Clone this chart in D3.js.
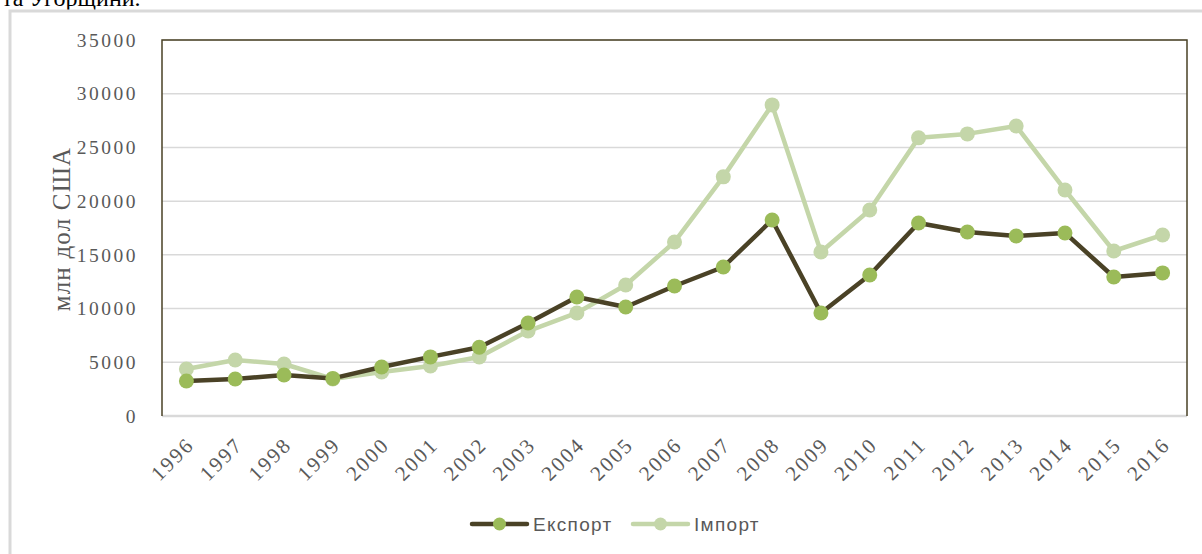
<!DOCTYPE html>
<html><head><meta charset="utf-8">
<script src="https://cdn.jsdelivr.net/npm/d3@7"></script>
<style>body{margin:0;background:#fff;} svg{display:block;}</style>
</head><body>
<svg id="c" width="1202" height="554"></svg>
<script>
const years = ["1996","1997","1998","1999","2000","2001","2002","2003","2004","2005","2006","2007","2008","2009","2010","2011","2012","2013","2014","2015","2016"];
const exportVals = [3260,3450,3820,3500,4560,5500,6400,8660,11080,10150,12100,13870,18250,9590,13130,17970,17130,16760,17040,12940,13320];
const importVals = [4380,5210,4840,3450,4100,4660,5500,7910,9590,12200,16200,22260,28960,15270,19180,25890,26260,27000,21040,15360,16850];
const yTicks = [0,5000,10000,15000,20000,25000,30000,35000];
const seriesNames = ["Експорт","Імпорт"];

const svg = d3.select("#c");
const L=162, R=1187, T=40, B=416;
const x = d3.scaleBand().domain(years).range([L,R]);
const y = d3.scaleLinear().domain([0,35000]).range([B,T]);
const cx = d => x(d)+x.bandwidth()/2;

// top cut-off text (continuation of preceding document text)
svg.append("text").attr("x",2).attr("y",6).attr("font-family","Liberation Serif").attr("font-size",24).attr("fill","#000").text("та Угорщини.");
// outer frame
svg.append("rect").attr("x",10).attr("y",11).attr("width",1200).attr("height",560).attr("fill","none").attr("stroke","#d9d9d9").attr("stroke-width",3);

// gridlines
svg.append("g").selectAll("line").data(yTicks.slice(1)).join("line")
  .attr("x1",L).attr("x2",R).attr("y1",d=>y(d)).attr("y2",d=>y(d))
  .attr("stroke","#d9d9d9").attr("stroke-width",1.5);
svg.append("line").attr("x1",L).attr("x2",R).attr("y1",y(0)).attr("y2",y(0)).attr("stroke","#d9d9d9").attr("stroke-width",2.5);
// plot frame (left, top, right)
svg.append("path").attr("d",`M${L},${B}V${T}H${R}V${B}`).attr("fill","none").attr("stroke","#4a4226").attr("stroke-width",1.5);

// y axis labels
const yAxis = d3.axisLeft(y).tickValues(yTicks).tickSize(0).tickPadding(0).tickFormat(d=>String(d));
const ga = svg.append("g").attr("transform",`translate(138,0)`).call(yAxis);
ga.select(".domain").remove();
ga.selectAll("text").attr("font-family","Liberation Serif").attr("font-size",19.5).attr("letter-spacing",2.5).attr("fill","#595959").attr("dy","0.32em");

// y title
svg.append("text").attr("transform","translate(70,229) rotate(-90)").attr("text-anchor","middle")
  .attr("font-family","Liberation Serif").attr("font-size",25).attr("letter-spacing",1.2).attr("fill","#595959").text("млн дол США");

// x labels
const xAxis = d3.axisBottom(x).tickSize(0).tickPadding(0);
const gx = svg.append("g").attr("transform",`translate(0,${B})`).call(xAxis);
gx.select(".domain").remove();
gx.selectAll("text").attr("font-family","Liberation Serif").attr("font-size",21).attr("letter-spacing",2.2).attr("fill","#595959")
  .attr("text-anchor","end").attr("dy",0).attr("y",0)
  .attr("transform","translate(9,30) rotate(-45)");

// lines
const line = vals => d3.line().x((d,i)=>cx(years[i])).y(d=>y(d))(vals);
svg.append("path").attr("d",line(importVals)).attr("fill","none").attr("stroke","#c4d6a9").attr("stroke-width",4.5).attr("stroke-linejoin","round");
svg.append("g").selectAll("circle").data(importVals).join("circle").attr("cx",(d,i)=>cx(years[i])).attr("cy",d=>y(d)).attr("r",7.5).attr("fill","#c4d6a9");
svg.append("path").attr("d",line(exportVals)).attr("fill","none").attr("stroke","#4a4226").attr("stroke-width",4.5).attr("stroke-linejoin","round");
svg.append("g").selectAll("circle").data(exportVals).join("circle").attr("cx",(d,i)=>cx(years[i])).attr("cy",d=>y(d)).attr("r",7.5).attr("fill","#9bbb59");

// legend
const leg = [{n:seriesNames[0],line:"#4a4226",dot:"#9bbb59",x:472},{n:seriesNames[1],line:"#c4d6a9",dot:"#c4d6a9",x:633}];
const lg = svg.append("g").selectAll("g").data(leg).join("g");
lg.append("line").attr("x1",d=>d.x).attr("x2",d=>d.x+55).attr("y1",524).attr("y2",524).attr("stroke",d=>d.line).attr("stroke-width",4.5).attr("stroke-linecap","round");
lg.append("circle").attr("cx",d=>d.x+27.5).attr("cy",524).attr("r",6.5).attr("fill",d=>d.dot);
lg.append("text").attr("x",d=>d.x+61).attr("y",524).attr("dy","0.35em").attr("font-family","Liberation Sans").attr("font-size",19).attr("letter-spacing",1.3).attr("fill","#595959").text(d=>d.n);
</script>
</body></html>
